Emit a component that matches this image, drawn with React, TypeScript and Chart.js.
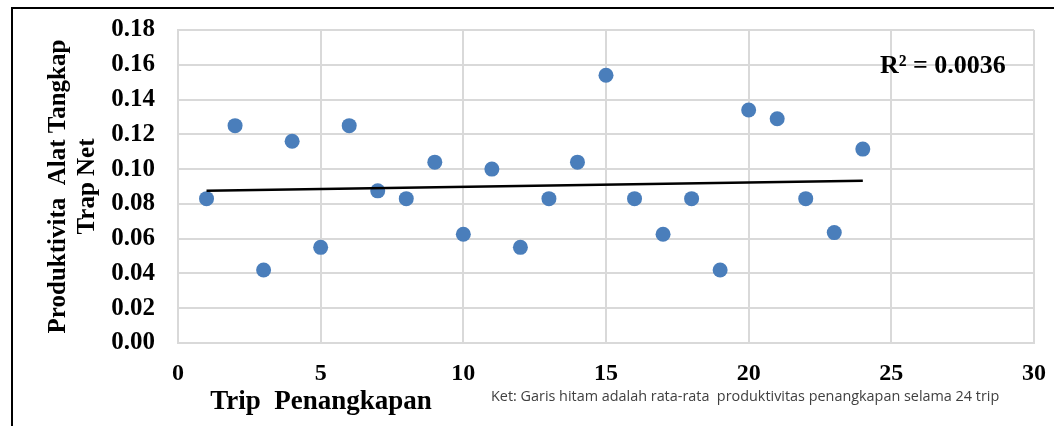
import React, { useEffect, useRef } from "react";
import { Chart, registerables } from "chart.js";

Chart.register(...registerables);

// ---- data ----
const trips = [1, 2, 3, 4, 5, 6, 7, 8, 9, 10, 11, 12, 13, 14, 15, 16, 17, 18, 19, 20, 21, 22, 23, 24];
const productivity = [
  0.083, 0.125, 0.042, 0.116, 0.055, 0.125, 0.0875, 0.083, 0.104, 0.0625, 0.1, 0.055,
  0.083, 0.104, 0.154, 0.083, 0.0625, 0.083, 0.042, 0.134, 0.129, 0.083, 0.0635, 0.1115,
];
const xTickValues = [0, 5, 10, 15, 20, 25, 30];
const yTickValues = [0, 0.02, 0.04, 0.06, 0.08, 0.1, 0.12, 0.14, 0.16, 0.18];
const yTitleLines = ["Produktivita  Alat Tangkap", "Trap Net"];
const xTitle = "Trip  Penangkapan";
const noteText = "Ket: Garis hitam adalah rata-rata  produktivitas penangkapan selama 24 trip";
const r2Label = "R\u00B2 = 0.0036";

// least squares trend line from the data
function trend() {
  const n = trips.length;
  const mx = trips.reduce((a, b) => a + b, 0) / n;
  const my = productivity.reduce((a, b) => a + b, 0) / n;
  let sxy = 0;
  let sxx = 0;
  for (let i = 0; i < n; i++) {
    sxy += (trips[i] - mx) * (productivity[i] - my);
    sxx += (trips[i] - mx) * (trips[i] - mx);
  }
  const b = sxy / sxx;
  const a = my - b * mx;
  const x0 = trips[0];
  const x1 = trips[n - 1];
  return [
    { x: x0, y: a + b * x0 },
    { x: x1, y: a + b * x1 },
  ];
}

const SERIF = "'Liberation Serif', 'Times New Roman', serif";

const decorPlugin = {
  id: "decor",
  afterDraw(chart: any) {
    const ctx = chart.ctx;
    const xs = chart.scales.x;
    const ys = chart.scales.y;
    ctx.save();
    // outer frame
    ctx.fillStyle = "#000";
    ctx.fillRect(11, 7, chart.width - 11, 2);
    ctx.fillRect(11, 7, 2, chart.height - 7);
    // R^2 label
    ctx.font = `bold 26px ${SERIF}`;
    ctx.fillStyle = "#000";
    ctx.textAlign = "left";
    ctx.textBaseline = "middle";
    ctx.fillText(r2Label, xs.getPixelForValue(24.6), ys.getPixelForValue(0.1593));
    // x title
    ctx.font = `bold 27px ${SERIF}`;
    ctx.textAlign = "center";
    ctx.fillText(xTitle, 321, 402);
    // note
    ctx.font = `14.4px 'Open Sans', 'Noto Sans', sans-serif`;
    ctx.fillStyle = "#404040";
    ctx.textAlign = "left";
    ctx.fillText(noteText, 491, 397, 511);
    ctx.restore();
  },
};

export default function App() {
  const ref = useRef<HTMLCanvasElement | null>(null);

  useEffect(() => {
    if (!ref.current) return;
    const grid = { color: "#d9d9d9", lineWidth: 2, drawTicks: false };
    const chart = new Chart(ref.current, {
      type: "scatter",
      data: {
        datasets: [
          {
            label: "trend",
            data: trend(),
            showLine: true,
            borderColor: "#000",
            borderWidth: 2.5,
            pointRadius: 0,
            order: 0,
          },
          {
            label: "Produktivitas",
            data: trips.map((t, i) => ({ x: t, y: productivity[i] })),
            backgroundColor: "#4a7ebb",
            borderWidth: 0,
            pointRadius: 7.5,
            order: 1,
          },
        ],
      },
      options: {
        animation: false,
        responsive: false,
        layout: { padding: { left: 0, right: 20, top: 30, bottom: 0 } },
        plugins: { legend: { display: false }, tooltip: { enabled: false } },
        scales: {
          x: {
            type: "linear",
            min: 0,
            max: 30,
            afterBuildTicks: (s: any) => {
              s.ticks = xTickValues.map((v) => ({ value: v }));
            },
            afterFit: (s: any) => {
              s.height = 83;
              s.paddingLeft = 0;
              s.paddingRight = 0;
            },
            grid,
            border: { color: "#d9d9d9", width: 2 },
            ticks: {
              font: { family: SERIF, size: 24, weight: "bold" },
              color: "#000",
              padding: 16,
              maxRotation: 0,
            },
          },
          y: {
            type: "linear",
            min: 0,
            max: 0.18,
            afterBuildTicks: (s: any) => {
              s.ticks = yTickValues.map((v) => ({ value: v }));
            },
            afterFit: (s: any) => {
              s.width = 178;
              s.paddingTop = 0;
              s.paddingBottom = 0;
            },
            grid,
            border: { color: "#d9d9d9", width: 2 },
            ticks: {
              font: { family: SERIF, size: 25, weight: "bold" },
              color: "#000",
              padding: 23,
              callback: (v: any) => Number(v).toFixed(2),
            },
            title: {
              display: true,
              text: yTitleLines,
              color: "#000",
              font: { family: SERIF, size: 25, weight: "bold", lineHeight: 1.16 },
              padding: { top: 44, bottom: 0 },
            },
          },
        },
      },
      plugins: [decorPlugin],
    });
    return () => chart.destroy();
  }, []);

  return (
    <div style={{ position: "fixed", left: 0, top: 0, width: 1054, height: 426, background: "#fff" }}>
      <canvas ref={ref} width={1054} height={426} style={{ display: "block", width: 1054, height: 426 }} />
    </div>
  );
}
